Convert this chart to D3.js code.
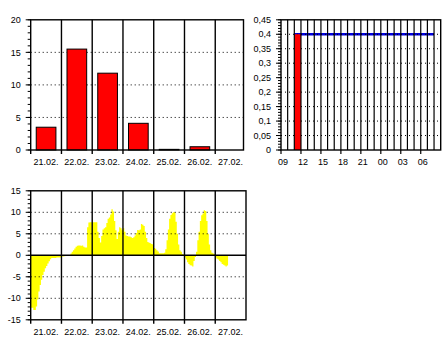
<!DOCTYPE html>
<html>
<head>
<meta charset="utf-8">
<script src="https://cdn.jsdelivr.net/npm/d3@7"></script>
<style>
  body { margin: 0; background: #fff; }
  text { font-family: "Liberation Sans", Arial, sans-serif; font-size: 9px; fill: #000; }
</style>
</head>
<body>
<script>

// daily precipitation (top left)
var days = ["21.02.", "22.02.", "23.02.", "24.02.", "25.02.", "26.02.", "27.02."];
var precipDaily = [3.5, 15.5, 11.8, 4.1, 0.1, 0.5, 0];

// hourly precipitation + running sum (top right)
var hourLabels = ["09", "12", "15", "18", "21", "00", "03", "06"];
var precipHourly = [0, 0, 0.4, 0, 0, 0, 0, 0, 0, 0, 0, 0, 0, 0, 0, 0, 0, 0, 0, 0, 0, 0, 0, 0];
var precipSum = [null, null, 0.4, 0.4, 0.4, 0.4, 0.4, 0.4, 0.4, 0.4, 0.4, 0.4, 0.4, 0.4, 0.4, 0.4, 0.4, 0.4, 0.4, 0.4, 0.4, 0.4, 0.4, 0.4];

// hourly temperature deviation, one array per day (bottom)
var dev21 = [-12.2, -12.2, -12.7, -12.7, -11.9, -10.3, -8.4, -6.9, -5.7, -4.6, -3.8, -3.0, -2.5, -1.9, -1.4, -0.9, -0.6, -0.6, -0.6, -0.6, -0.5, -0.5, -0.5, -0.5];
var dev22 = [-0.3, -0.3, -0.2, 0, 0, 0, 0, 0.4, 0.8, 1.2, 1.6, 2.0, 2.2, 2.3, 2.3, 2.2, 2.3, 2.0, 1.8, 1.8, 6.5, 7.6, 7.7, 7.7];
var dev23 = [7.7, 7.7, 7.7, 7.7, 5.5, 4.0, 3.0, 4.5, 6.0, 6.3, 6.5, 7.5, 8.5, 8.8, 9.5, 10.7, 10.2, 8.0, 5.8, 3.8, 5.5, 6.5, 6.3, 5.8];
var dev24 = [6.3, 5.5, 4.6, 4.5, 4.4, 4.4, 4.2, 4.0, 4.2, 4.6, 5.2, 5.9, 5.8, 6.0, 7.3, 7.1, 6.8, 5.5, 4.0, 3.1, 2.9, 2.8, 2.6, 2.5];
var dev25 = [1.7, 1.5, 1.2, 0.9, 0.5, 0.5, 0.5, 0.5, 0.6, 1.4, 3.5, 6.0, 8.5, 9.4, 9.8, 10.0, 10.0, 7.8, 5.0, 2.5, 1.2, 0.8, 0.3, 0.2];
var dev26 = [-0.5, -1.0, -1.6, -2.0, -2.3, -2.4, -2.6, -1.3, -0.4, 0.8, 3.5, 5.5, 8.0, 9.3, 9.7, 10.5, 10.3, 8.0, 5.0, 2.5, 1.2, 0.6, 0.4, 0.3];
var dev27 = [-0.5, -0.8, -1.0, -1.3, -1.6, -2.0, -2.2, -2.4, -2.6, -2.4];

var yTicks1 = [0, 5, 10, 15, 20];
var yTicks2 = [0, 0.05, 0.1, 0.15, 0.2, 0.25, 0.3, 0.35, 0.4, 0.45];
var yTicks3 = [-15, -10, -5, 0, 5, 10, 15];

var svg = d3.select("body").append("svg")
    .attr("width", 446)
    .attr("height", 340);

svg.append("rect").attr("width", 446).attr("height", 340).attr("fill", "white");

var lw = 1.4;

function leftTicks(g, y, x0, minorVals, majorVals, fmt) {
  g.selectAll(null).data(minorVals).enter().append("line")
    .attr("x1", x0 - 3).attr("x2", x0)
    .attr("y1", function(d) { return y(d); })
    .attr("y2", function(d) { return y(d); })
    .attr("stroke", "black").attr("stroke-width", 1);
  g.selectAll(null).data(majorVals).enter().append("line")
    .attr("x1", x0 - 5).attr("x2", x0)
    .attr("y1", function(d) { return y(d); })
    .attr("y2", function(d) { return y(d); })
    .attr("stroke", "black").attr("stroke-width", 1);
  g.selectAll(null).data(majorVals).enter().append("text")
    .attr("x", x0 - 10)
    .attr("y", function(d) { return y(d); })
    .attr("dy", "0.35em")
    .attr("text-anchor", "end")
    .text(fmt);
}

function dotted(g, y, vals, x0, x1) {
  g.selectAll(null).data(vals).enter().append("line")
    .attr("x1", x0).attr("x2", x1)
    .attr("y1", function(d) { return y(d); })
    .attr("y2", function(d) { return y(d); })
    .attr("stroke", "black").attr("stroke-width", 1)
    .attr("stroke-dasharray", "1,3");
}

// ---------- chart 1: daily precipitation ----------
var c1 = { left: 30.7, right: 243.5, top: 19.8, bottom: 150 };
var g1 = svg.append("g");
var x1 = d3.scaleLinear().domain([0, 7]).range([30.7, 246]);
var y1 = d3.scaleLinear().domain([0, 20]).range([c1.bottom, c1.top]);

dotted(g1, y1, [5, 10, 15], c1.left, c1.right);

g1.selectAll(".bar").data(precipDaily).enter().append("rect")
  .attr("x", function(d, i) { return x1(i + 0.18); })
  .attr("width", x1(0.64) - x1(0))
  .attr("y", function(d) { return y1(d); })
  .attr("height", function(d) { return c1.bottom - y1(d); })
  .attr("fill", "#ff0000")
  .attr("stroke", "black")
  .attr("stroke-width", 1);

g1.selectAll(null).data(d3.range(1, 7)).enter().append("line")
  .attr("x1", function(d) { return x1(d); }).attr("x2", function(d) { return x1(d); })
  .attr("y1", c1.top).attr("y2", c1.bottom + 4)
  .attr("stroke", "black").attr("stroke-width", lw);
g1.append("rect")
  .attr("x", c1.left).attr("y", c1.top)
  .attr("width", c1.right - c1.left).attr("height", c1.bottom - c1.top)
  .attr("fill", "none").attr("stroke", "black").attr("stroke-width", lw);
g1.append("line").attr("x1", c1.left).attr("x2", c1.left)
  .attr("y1", c1.bottom).attr("y2", c1.bottom + 4)
  .attr("stroke", "black").attr("stroke-width", lw);

leftTicks(g1, y1, c1.left, d3.range(0, 21), yTicks1, function(d) { return d; });

g1.selectAll(".xl").data(days).enter().append("text")
  .attr("x", function(d, i) { return x1(i + 0.5); })
  .attr("y", c1.bottom + 15)
  .attr("text-anchor", "middle")
  .text(function(d) { return d; });

// ---------- chart 2: hourly precipitation ----------
var c2 = { left: 281, right: 440.7, top: 19.8, bottom: 150 };
var g2 = svg.append("g");
var x2 = d3.scaleLinear().domain([0, 24]).range([c2.left, c2.right]);
var y2 = d3.scaleLinear().domain([0, 0.45]).range([c2.bottom, c2.top]);

var sumLine = d3.line()
  .defined(function(d) { return d != null; })
  .x(function(d, i) { return x2(i); })
  .y(function(d) { return y2(d); });

g2.append("path")
  .datum(precipSum)
  .attr("d", sumLine)
  .attr("fill", "none")
  .attr("stroke", "#0000dd")
  .attr("stroke-width", 2.6);

dotted(g2, y2, yTicks2.slice(1, 9), c2.left, c2.right);

g2.selectAll(".bar").data(precipHourly).enter().append("rect")
  .attr("x", function(d, i) { return x2(i); })
  .attr("width", x2(1) - x2(0))
  .attr("y", function(d) { return y2(d); })
  .attr("height", function(d) { return c2.bottom - y2(d); })
  .attr("fill", "#ff0000");

g2.selectAll(null).data(d3.range(1, 24)).enter().append("line")
  .attr("x1", function(d) { return x2(d); }).attr("x2", function(d) { return x2(d); })
  .attr("y1", c2.top).attr("y2", c2.bottom)
  .attr("stroke", "black").attr("stroke-width", 1.2);
g2.selectAll(null).data(d3.range(0, 24, 3)).enter().append("line")
  .attr("x1", function(d) { return x2(d); }).attr("x2", function(d) { return x2(d); })
  .attr("y1", c2.bottom).attr("y2", c2.bottom + 4)
  .attr("stroke", "black").attr("stroke-width", 1.2);
g2.append("rect")
  .attr("x", c2.left).attr("y", c2.top)
  .attr("width", c2.right - c2.left).attr("height", c2.bottom - c2.top)
  .attr("fill", "none").attr("stroke", "black").attr("stroke-width", lw);

leftTicks(g2, y2, c2.left, d3.range(0, 46).map(function(k) { return k / 100; }), yTicks2,
  function(d) { return String(+d.toFixed(2)).replace(".", ","); });

g2.selectAll(".xl").data(hourLabels).enter().append("text")
  .attr("x", function(d, i) { return x2(i * 3) + 2; })
  .attr("y", c2.bottom + 15)
  .attr("text-anchor", "middle")
  .text(function(d) { return d; });

// ---------- chart 3: temperature deviation ----------
var c3 = { left: 30.7, right: 246, top: 190.8, bottom: 319.8 };
var g3 = svg.append("g");
var x3 = d3.scaleLinear().domain([0, 168]).range([c3.left, c3.right]);
var y3 = d3.scaleLinear().domain([-15, 15]).range([c3.bottom, c3.top]);

var devDays = [dev21, dev22, dev23, dev24, dev25, dev26, dev27];
var pts = [];
devDays.forEach(function(arr, day) {
  arr.forEach(function(v, h) { pts.push({ t: day * 24 + h, v: v }); });
});
var last = pts[pts.length - 1];
pts.push({ t: last.t + 1, v: last.v });

var area = d3.area()
  .curve(d3.curveStepAfter)
  .x(function(d) { return x3(d.t); })
  .y0(y3(0))
  .y1(function(d) { return y3(d.v); });

g3.append("path")
  .datum(pts)
  .attr("d", area)
  .attr("fill", "#ffff00")
  .attr("stroke", "none");

dotted(g3, y3, [-10, -5, 5, 10], c3.left, c3.right);
g3.append("line")
  .attr("x1", c3.left).attr("x2", c3.right)
  .attr("y1", y3(0)).attr("y2", y3(0))
  .attr("stroke", "black").attr("stroke-width", lw);

g3.selectAll(null).data(d3.range(1, 7)).enter().append("line")
  .attr("x1", function(d) { return x3(d * 24); }).attr("x2", function(d) { return x3(d * 24); })
  .attr("y1", c3.top).attr("y2", c3.bottom + 4)
  .attr("stroke", "black").attr("stroke-width", lw);
g3.append("rect")
  .attr("x", c3.left).attr("y", c3.top)
  .attr("width", c3.right - c3.left).attr("height", c3.bottom - c3.top)
  .attr("fill", "none").attr("stroke", "black").attr("stroke-width", lw);
g3.append("line").attr("x1", c3.left).attr("x2", c3.left)
  .attr("y1", c3.bottom).attr("y2", c3.bottom + 4)
  .attr("stroke", "black").attr("stroke-width", lw);

leftTicks(g3, y3, c3.left, d3.range(-15, 16), yTicks3, function(d) { return d; });

g3.selectAll(".xl").data(days).enter().append("text")
  .attr("x", function(d, i) { return x3(i * 24 + 12); })
  .attr("y", c3.bottom + 15)
  .attr("text-anchor", "middle")
  .text(function(d) { return d; });

</script>
</body>
</html>
